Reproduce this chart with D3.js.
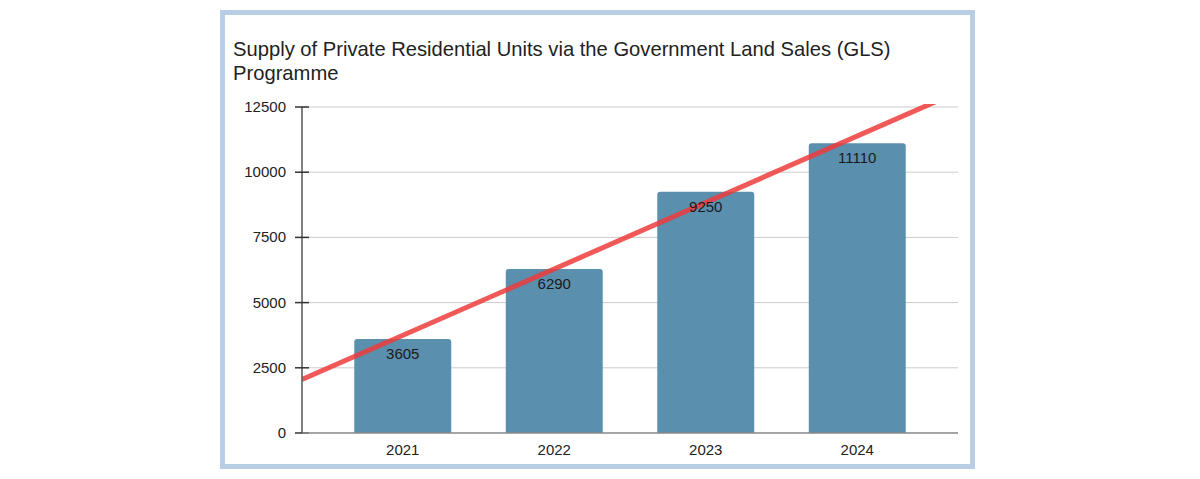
<!DOCTYPE html>
<html><head><meta charset="utf-8">
<script src="https://cdn.jsdelivr.net/npm/d3@7"></script>
<style>body{margin:0;background:#fff;}svg{display:block;font-family:"Liberation Sans",Arial,sans-serif;}</style>
</head><body>
<svg id="c" width="1200" height="479"></svg>
<script>
const categories = ["2021","2022","2023","2024"];
const values = [3605, 6290, 9250, 11110];
const yTicks = [0, 2500, 5000, 7500, 10000, 12500];
const titleLines = ["Supply of Private Residential Units via the Government Land Sales (GLS)", "Programme"];

const svg = d3.select("#c");
// frame
svg.append("rect").attr("x",222.5).attr("y",12.5).attr("width",750).attr("height",454)
  .attr("fill","#fff").attr("stroke","#b7cee5").attr("stroke-width",5);

const L=302, R=958, T=107, B=433;
const x = d3.scaleBand().domain(categories).range([L,R]).paddingInner(0.36).paddingOuter(0.345);
const y = d3.scaleLinear().domain([0,12500]).range([B,T]);

// title
svg.append("text").attr("x",233).attr("y",56).attr("font-size",20.2).attr("fill","#222")
  .selectAll("tspan").data(titleLines).join("tspan").attr("x",233).attr("dy",(d,i)=>i?24:0).text(d=>d);

// grid
svg.append("g").selectAll("line").data(yTicks.filter(d=>d>0)).join("line")
  .attr("x1",L).attr("x2",R).attr("y1",d=>y(d)).attr("y2",d=>y(d))
  .attr("stroke","#cccccc").attr("stroke-width",1);

// bars
const r=3;
svg.append("g").selectAll("path").data(values).join("path")
  .attr("fill","#5a8fae")
  .attr("d",(d,i)=>{
    const x0=x(categories[i]), w=x.bandwidth(), y0=y(d), y1=y(0);
    return `M${x0},${y1}V${y0+r}Q${x0},${y0} ${x0+r},${y0}H${x0+w-r}Q${x0+w},${y0} ${x0+w},${y0+r}V${y1}Z`;
  });

// trendline (least squares over category index)
const xs=values.map((d,i)=>i+1);
const mx=d3.mean(xs), my=d3.mean(values);
const slope=d3.sum(xs.map((xi,i)=>(xi-mx)*(values[i]-my)))/d3.sum(xs.map(xi=>(xi-mx)**2));
const icpt=my-slope*mx;
const step=x.step();
const c1=x(categories[0])+x.bandwidth()/2;
const cx=i=>c1+(i-1)*step;
const idx=px=>1+(px-c1)/step;
svg.append("clipPath").attr("id","pc").append("rect").attr("x",L).attr("y",T-3).attr("width",R-L).attr("height",B-T+3);
const i0=idx(L), i1=idx(R);
svg.append("line").attr("clip-path","url(#pc)")
  .attr("x1",cx(i0)).attr("y1",y(icpt+slope*i0)).attr("x2",cx(i1)).attr("y2",y(icpt+slope*i1))
  .attr("stroke","#ee3b3b").attr("stroke-opacity",0.85).attr("stroke-width",5);

// bar labels (drawn over the trendline)
svg.append("g").selectAll("text").data(values).join("text")
  .attr("x",(d,i)=>x(categories[i])+x.bandwidth()/2).attr("y",d=>y(d)+20)
  .attr("text-anchor","middle").attr("font-size",15).attr("fill","#1a1a1a").text(d=>d);

// y axis
svg.append("line").attr("x1",L).attr("x2",L).attr("y1",T).attr("y2",B).attr("stroke","#555").attr("stroke-width",1.5);
svg.append("g").selectAll("line").data(yTicks).join("line")
  .attr("x1",L-7).attr("x2",L+7).attr("y1",d=>y(d)).attr("y2",d=>y(d)).attr("stroke","#333").attr("stroke-width",1.5);
svg.append("g").selectAll("text").data(yTicks).join("text")
  .attr("x",L-16).attr("y",d=>y(d)+5).attr("text-anchor","end").attr("font-size",15).attr("fill","#222").text(d=>d);

// x axis
svg.append("line").attr("x1",L).attr("x2",R).attr("y1",B).attr("y2",B).attr("stroke","#888").attr("stroke-width",1.5);
svg.append("g").selectAll("text").data(categories).join("text")
  .attr("x",d=>x(d)+x.bandwidth()/2).attr("y",455).attr("text-anchor","middle").attr("font-size",15).attr("fill","#222").text(d=>d);
</script>
</body></html>
